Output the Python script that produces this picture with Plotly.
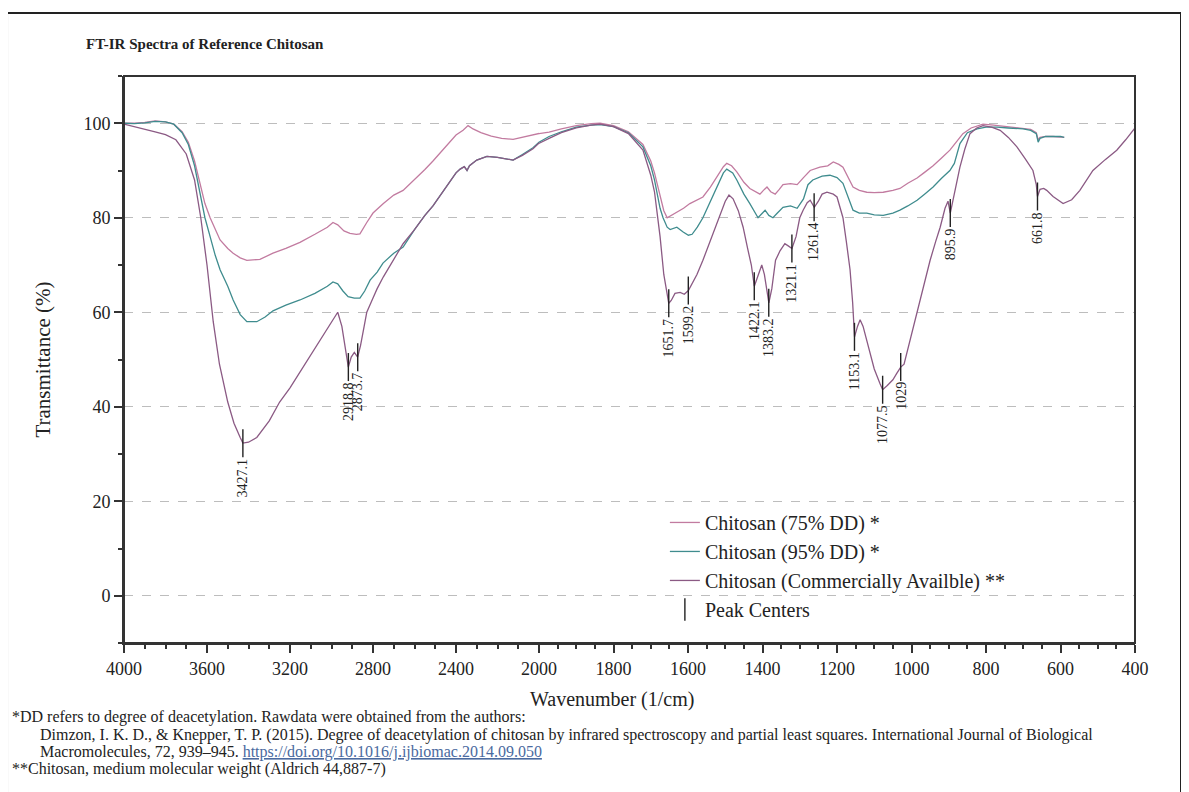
import plotly.graph_objects as go

# ---------------- data ----------------
com_wn = [4000, 3950, 3900, 3850, 3800, 3750, 3700, 3660, 3630, 3600, 3570, 3540, 3500, 3470, 3440, 3427, 3400,
          3360, 3300, 3250, 3200, 3150, 3100, 3050, 3000, 2970, 2950, 2930, 2919, 2905, 2890, 2874, 2860, 2845,
          2830, 2800, 2780, 2750, 2718, 2680, 2655, 2600, 2550, 2511, 2450, 2400, 2380, 2360, 2347, 2335, 2300,
          2251, 2200, 2150, 2125, 2080, 2029, 2000, 1973, 1940, 1900, 1860, 1836, 1800, 1760, 1721, 1700, 1690,
          1675, 1665, 1655, 1651.7, 1645, 1635, 1621, 1610, 1599, 1590, 1576, 1560, 1541, 1520, 1500, 1490, 1479,
          1465, 1452, 1440, 1430, 1422, 1412, 1402, 1395, 1383, 1375, 1365, 1353, 1340, 1330, 1321, 1310, 1300,
          1291, 1280, 1272, 1261, 1250, 1240, 1227, 1210, 1200, 1184, 1175, 1165, 1158, 1153, 1145, 1138, 1130,
          1120, 1111, 1100, 1085, 1077.5, 1065, 1050, 1040, 1029, 1020, 1004, 990, 977, 963, 950, 935, 923, 910,
          902, 895.9, 888, 880, 870, 857, 843, 825, 808, 785, 762, 740, 717, 695, 674, 665, 661.8, 655, 645, 637,
          620, 593, 570, 548, 530, 513, 480, 449, 425, 400]
com_t = [99.8, 99.3, 98.8, 98.2, 97.6, 96.5, 93.5, 88, 80, 70, 58, 49, 41, 36.5, 33.5, 32.3, 32.5,
         33.5, 37, 41, 44, 47.5, 51, 54.5, 58, 60, 57, 51, 48.4, 50.5, 51.5, 50.5, 53, 56.5,
         60, 63, 65, 67.5, 69.8, 72.5, 74.5, 77.5, 80.5, 82.5, 86.5, 89.5, 90.3, 90.8, 90, 91, 92.2,
         93, 92.8, 92.3, 92.2, 93.2, 94.6, 95.8, 96.8, 98, 99, 99.6, 99.8, 99.3, 97.8, 94.3, 89, 85.5,
         76, 68, 63, 61.9, 62.5, 64, 64.2, 63.8, 64.6, 66, 68, 71, 75, 79.5, 83.5, 84.8, 84,
         81.5, 78, 73.5, 70, 65.5, 68, 70, 68, 62, 65, 71, 73, 74.5, 74, 73.5, 76, 80,
         81.6, 83.2, 83.7, 82.2, 83.5, 85, 85.4, 85, 84.4, 80, 75, 69, 62, 54.8, 57, 58.4, 57,
         54, 51.4, 48, 45, 43.6, 44.5, 45.7, 47, 48.4, 49, 54, 58, 62.6, 67, 71, 75, 78, 82,
         83.5, 81, 84, 87.5, 90.7, 94.5, 97.8, 99, 99.5, 99.2, 98.5, 97, 95, 92.5, 90, 87, 84.5, 86, 86.2, 85.8,
         84.5, 83, 83.8, 85.8, 88, 90, 92.3, 94.3, 96.5, 99]

d95_wn = [4000, 3950, 3900, 3850, 3800, 3760, 3720, 3690, 3660, 3634, 3610, 3585, 3560, 3537, 3500, 3474, 3440,
          3408, 3360, 3320, 3282, 3220, 3152, 3080, 3020, 2993, 2970, 2945, 2920, 2890, 2863, 2840, 2814, 2780,
          2752, 2700, 2655, 2600, 2550, 2511, 2450, 2400, 2380, 2360, 2347, 2335, 2300, 2251, 2200, 2150, 2125,
          2080, 2029, 2000, 1973, 1940, 1900, 1860, 1836, 1800, 1760, 1721, 1700, 1690, 1675, 1667, 1656, 1648,
          1630, 1613, 1599, 1589, 1575, 1560, 1540, 1522, 1505, 1496, 1480, 1469, 1450, 1434, 1420, 1412, 1400,
          1393, 1383, 1372, 1360, 1345, 1325, 1307, 1290, 1278, 1265, 1253, 1240, 1219, 1200, 1184, 1170, 1157,
          1140, 1120, 1100, 1076, 1050, 1031, 1010, 985, 965, 942, 920, 897, 885, 870, 850, 824, 800, 770, 740,
          700, 680, 665, 660, 655, 640, 620, 600, 590]
d95_t = [100, 99.9, 100.1, 100.4, 100.3, 99.8, 98, 95.5, 91, 85, 80, 76, 72, 69, 65.5, 62.6, 59.5,
         58, 58, 59, 60.3, 61.5, 62.6, 64, 65.5, 66.4, 66, 64.5, 63.3, 63, 63, 64.5, 66.8, 68.5,
         70.4, 72.5, 73.8, 77.5, 80.5, 82.5, 86.5, 89.5, 90.3, 90.8, 90, 91, 92.2, 93, 92.8, 92.3, 92.2,
         93.4, 94.8, 96, 97.2, 98.2, 99.2, 99.6, 99.7, 99.3, 98, 95, 91, 88, 82, 80, 78, 77.5,
         78, 77, 76.3, 76.5, 78, 80, 83.5, 86.5, 89.5, 90.3, 89.5, 88, 85, 83, 81, 80, 81,
         81.6, 80.5, 80, 81, 82.2, 82.5, 82, 84, 87, 88, 88.4, 88.8, 89, 88.5, 87.3, 84.5, 81.6,
         81, 81, 80.6, 80.5, 81, 81.6, 82.5, 83.7, 85, 86.5, 88.3, 90, 91.5, 95.7, 98, 98.8, 99.2, 99.2, 99,
         98.8, 98.5, 97.8, 96, 96.8, 97.2, 97.2, 97.2, 97]

d75_wn = [4000, 3950, 3900, 3850, 3800, 3760, 3720, 3690, 3660, 3634, 3610, 3585, 3560, 3537, 3500, 3474, 3440,
          3408, 3345, 3282, 3220, 3152, 3080, 3020, 2993, 2970, 2940, 2911, 2880, 2863, 2830, 2800, 2750, 2700,
          2655, 2600, 2550, 2511, 2450, 2400, 2366, 2342, 2318, 2280, 2230, 2180, 2125, 2080, 2029, 2000, 1973,
          1940, 1900, 1860, 1836, 1800, 1760, 1721, 1700, 1690, 1675, 1665, 1656, 1645, 1630, 1612, 1595, 1578,
          1560, 1540, 1522, 1505, 1496, 1483, 1469, 1450, 1434, 1420, 1407, 1395, 1388, 1378, 1366, 1355, 1345,
          1325, 1307, 1290, 1272, 1246, 1225, 1210, 1195, 1184, 1170, 1157, 1140, 1120, 1100, 1076, 1050, 1031,
          1010, 985, 965, 942, 920, 897, 880, 862, 840, 808, 780, 740, 700, 680, 665, 660, 655, 640, 620, 600, 590]
d75_t = [100, 100, 100.2, 100.5, 100.3, 99.8, 98.2, 96, 92, 87.3, 83, 80, 77.5, 75.3, 73.5, 72.5, 71.5,
         71, 71.2, 72.5, 73.5, 74.8, 76.5, 78, 79, 78.5, 77.2, 76.7, 76.5, 76.6, 79, 81, 83, 84.8,
         85.8, 88, 90.2, 92, 95, 97.5, 98.5, 99.5, 98.8, 98, 97.3, 96.8, 96.6, 97, 97.5, 97.8, 98.1,
         98.8, 99.5, 99.9, 100, 99.5, 98.2, 95.5, 92, 89.5, 84.5, 81.5, 80, 80.5, 81, 82, 83, 83.6,
         84.4, 86.5, 88.6, 90.8, 91.5, 91, 89.7, 87.5, 86.2, 85.5, 85, 86, 86.5, 85.5, 85, 86, 87,
         87.2, 87, 88.5, 90, 90.7, 91, 91.8, 91.3, 90.7, 88.5, 86.5, 85.8, 85.4, 85.3, 85.4, 85.8, 86.2,
         87.3, 88.4, 89.6, 91, 92.6, 94.3, 96, 97.8, 99, 99.8, 99.6, 99.3, 99, 98.7, 98, 96.5, 97, 97.2, 97.2, 97.1, 97]

peak_wn = [3427.1, 2918.8, 2873.7, 1651.7, 1599.2, 1422.1, 1383.2, 1321.1, 1261.4, 1153.1, 1077.5, 1029, 895.9, 661.8]
peak_t = [32.3, 48.4, 50.5, 61.9, 64.6, 65.5, 62, 73.5, 82.2, 54.8, 43.6, 48.4, 81, 84.5]
peak_lbl = ["3427.1", "2918.8", "2873.7", "1651.7", "1599.2", "1422.1", "1383.2", "1321.1", "1261.4",
            "1153.1", "1077.5", "1029", "895.9", "661.8"]

x_ticks_hi = [4000, 3600, 3200, 2800, 2400]
x_ticks_lo = [2000, 1800, 1600, 1400, 1200, 1000, 800, 600, 400]
y_ticks = [0, 20, 40, 60, 80, 100]

series = [
    ("Chitosan (75% DD) *", d75_wn, d75_t, "#c27ba0"),
    ("Chitosan (95% DD) *", d95_wn, d95_t, "#3f8c8e"),
    ("Chitosan (Commercially Availble) **", com_wn, com_t, "#8b5a84"),
]

SERIF = "Liberation Serif"
SPLIT = 2000
f = 0.4105
INK = "#222222"

fig = go.Figure()
for name, wn, t, col in series:
    for xa, show in (("x", True), ("x2", False)):
        fig.add_trace(go.Scatter(x=wn, y=t, mode="lines", name=name, legendgroup=name,
                                 showlegend=show, xaxis=xa, yaxis="y",
                                 line=dict(color=col, width=1.3)))

hi = [i for i, w in enumerate(peak_wn) if w > SPLIT]
lo = [i for i, w in enumerate(peak_wn) if w <= SPLIT]
for xa, idx, show in (("x", hi, True), ("x2", lo, False)):
    fig.add_trace(go.Scatter(x=[peak_wn[i] for i in idx], y=[peak_t[i] for i in idx], mode="markers",
                             name="Peak Centers", legendgroup="peaks", showlegend=show,
                             xaxis=xa, yaxis="y",
                             marker=dict(symbol="line-ns-open", size=20, color=INK,
                                         line=dict(color=INK, width=1.4))))

for w, t, lbl in zip(peak_wn, peak_t, peak_lbl):
    fig.add_annotation(x=w, y=t, xref="x" if w > SPLIT else "x2", yref="y", text=lbl,
                       textangle=-90, showarrow=False, xanchor="center", yanchor="top", yshift=-13,
                       font=dict(family=SERIF, size=14, color=INK))

axis_common = dict(showline=True, linecolor="#333333", linewidth=2, ticks="outside", ticklen=8,
                   tickwidth=1.5, tickcolor="#333333", zeroline=False,
                   tickfont=dict(family=SERIF, size=18, color=INK))
minor_common = dict(ticks="outside", ticklen=4, tickcolor="#333333", showgrid=False, tick0=0)

# page body has an 8 px margin: figure is drawn 8 px in from the top-left corner
fig.update_layout(
    width=1181, height=784,
    paper_bgcolor="white", plot_bgcolor="white",
    margin=dict(l=116, r=54, t=68, b=149),
    xaxis=dict(domain=[0, f], range=[4000, SPLIT], tickvals=x_ticks_hi, anchor="y", showgrid=False,
               minor=dict(dtick=100, **minor_common), **axis_common),
    xaxis2=dict(domain=[f, 1], range=[SPLIT, 400], tickvals=x_ticks_lo, anchor="y", showgrid=False,
                minor=dict(dtick=50, **minor_common), **axis_common),
    yaxis=dict(range=[-10, 110], tickvals=y_ticks, anchor="x",
               showgrid=True, gridcolor="#bdbdbd", griddash="dash", gridwidth=1,
               minor=dict(dtick=10, **minor_common),
               title=dict(text="Transmittance (%)", standoff=27,
                          font=dict(family=SERIF, size=21, color=INK)),
               **axis_common),
    legend=dict(x=0.535, y=0.247, xanchor="left", yanchor="top", bgcolor="rgba(0,0,0,0)",
                font=dict(family=SERIF, size=20, color=INK), tracegroupgap=0),
    showlegend=True,
)

# plot frame and outer border
fig.add_shape(type="rect", xref="paper", yref="paper", x0=0, x1=1, y0=0, y1=1,
              line=dict(color="#333333", width=2))
fig.add_shape(type="rect", xref="paper", yref="paper", x0=-0.1157, x1=1.0455, y0=-0.3, y1=1.111,
              line=dict(color=INK, width=2))

fig.add_annotation(xref="paper", yref="paper", x=-0.0395, y=1.057, xanchor="left", yanchor="middle",
                   text="<b>FT-IR Spectra of Reference Chitosan</b>", showarrow=False,
                   font=dict(family=SERIF, size=15, color=INK))
fig.add_annotation(xref="paper", yref="paper", x=0.483, y=-0.1005, xanchor="center", yanchor="middle",
                   text="Wavenumber (1/cm)", showarrow=False,
                   font=dict(family=SERIF, size=20, color=INK))

notes = [
    (-0.1128, -0.1305, "*DD refers to degree of deacetylation. Rawdata were obtained from the authors:"),
    (-0.0855, -0.1623, "Dimzon, I. K. D., &amp; Knepper, T. P. (2015). Degree of deacetylation of chitosan by infrared "
                       "spectroscopy and partial least squares. International Journal of Biological"),
    (-0.0855, -0.1922, "Macromolecules, 72, 939–945. <span style='color:#4a6aa0;text-decoration:underline'>"
                       "https://doi.org/10.1016/j.ijbiomac.2014.09.050</span>"),
    (-0.1128, -0.2222, "**Chitosan, medium molecular weight (Aldrich 44,887-7)"),
]
for x, y, t in notes:
    fig.add_annotation(xref="paper", yref="paper", x=x, y=y, xanchor="left", yanchor="middle",
                       text=t, showarrow=False, font=dict(family=SERIF, size=16, color=INK))

fig.write_html("out.html")
